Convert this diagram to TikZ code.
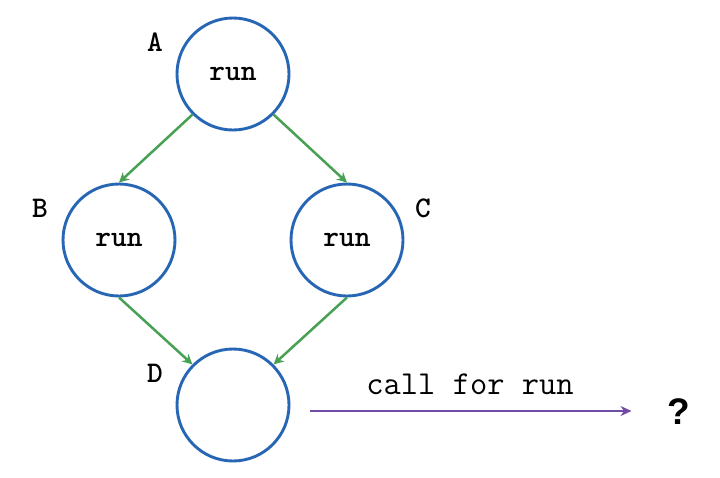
\documentclass[tikz,border=0pt]{standalone}
\usepackage{fontspec}
\newfontfamily\qfont{Liberation Sans}
\usetikzlibrary{arrows.meta}
\definecolor{nodeblue}{RGB}{38,102,180}
\definecolor{edgegreen}{RGB}{72,160,84}
\definecolor{callpurple}{RGB}{112,76,164}
\tikzset{
  task/.style={circle, draw=nodeblue, line width=2.9pt, minimum size=112pt, inner sep=0pt,
               font=\fontsize{30}{32}\selectfont\ttfamily\bfseries},
  tag/.style={font=\fontsize{30}{32}\selectfont\ttfamily\bfseries, inner sep=0pt},
  dep/.style={draw=edgegreen, line width=2.5pt, -{Stealth[length=10pt,width=10pt]}},
  call/.style={draw=callpurple, line width=2.8pt, -{Stealth[length=11pt,width=10pt]}},
}
\begin{document}
\begin{tikzpicture}[x=1pt,y=-1pt]
  \useasboundingbox[fill=white] (0,0) rectangle (720,477);
  % task nodes
  \node[task] (A) at (233,74) {run};
  \node[task] (B) at (119,240) {run};
  \node[task] (C) at (347,240) {run};
  \node[task] (D) at (233,405) {};
  % node labels
  \node[tag] (la) at (155,42) {A};
  \node[tag] (lb) at (40,208) {B};
  \node[tag] (lc) at (423,208) {C};
  \node[tag] (ld) at (155,373) {D};
  % dependencies
  \draw[dep] (A.-135) -- (B.north);
  \draw[dep] (A.-45) -- (C.north);
  \draw[dep] (B.south) -- (D.135);
  \draw[dep] (C.south) -- (D.45);
  % outgoing call
  \node[font=\fontsize{37}{38}\selectfont\qfont\bfseries, inner sep=0pt] (q) at (679,412) {?};
  \coordinate (s) at (310,411);
  \draw[call, shorten >=36pt] (s) -- (s -| q.west);
  \node[font=\fontsize{33.5}{35}\selectfont\ttfamily, anchor=base] (lbl) at (470,394) {call for run};
\end{tikzpicture}
\end{document}
